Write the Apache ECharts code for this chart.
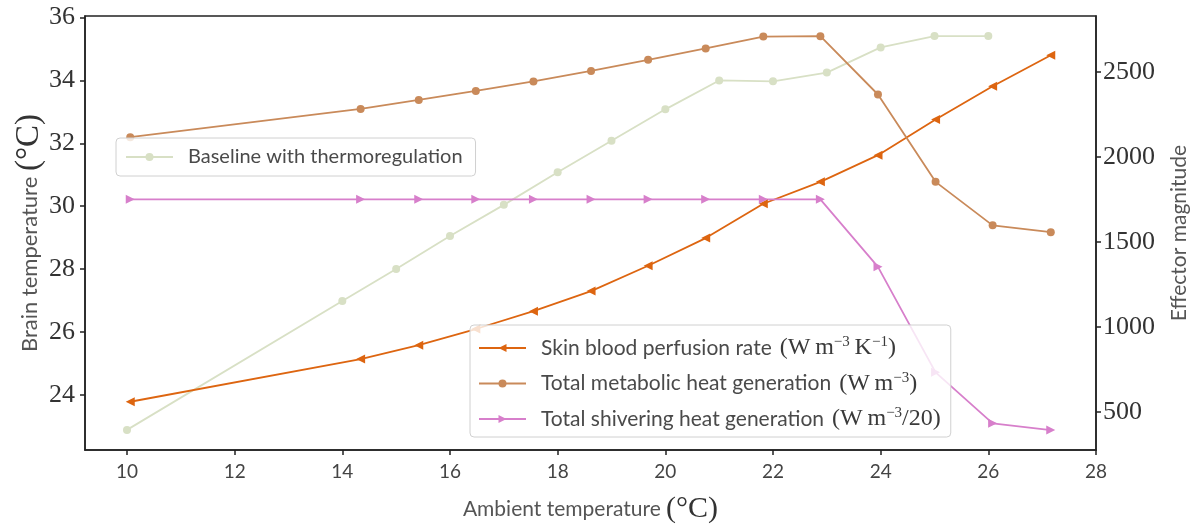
<!DOCTYPE html>
<html>
<head>
<meta charset="utf-8">
<script src="https://cdn.jsdelivr.net/npm/echarts@6/dist/echarts.min.js"></script>
<style>
  html, body { margin: 0; padding: 0; background: #fff; }
  #chart { width: 1194px; height: 525px; }
</style>
</head>
<body>
<div id="chart"></div>
<script>
// ambient temperature of each run
const baselineX = [10, 14, 15, 16, 17, 18, 19, 20, 21, 22, 23, 24, 25, 26];
const effectorX = [10.06, 14.34, 15.42, 16.48, 17.55, 18.62, 19.68, 20.75, 21.82, 22.88, 23.95, 25.02, 26.08, 27.16];

// brain temperature (left axis)
const baseline = [22.88, 26.98, 28.0, 29.05, 30.04, 31.08, 32.08, 33.08, 34.0, 33.97, 34.25, 35.05, 35.41, 35.41];

// effector magnitudes (right axis)
const perfusion = [559, 810, 892, 987, 1092, 1210, 1359, 1522, 1724, 1853, 2010, 2220, 2416, 2598];
const metabolic = [2116, 2282, 2335, 2388, 2444, 2506, 2571, 2638, 2708, 2710, 2367, 1853, 1597, 1557];
const shivering = [1750, 1750, 1750, 1750, 1750, 1750, 1750, 1750, 1750, 1750, 1353, 732, 432, 392];

const xTicks = [10, 12, 14, 16, 18, 20, 22, 24, 26, 28];
const leftTicks = [24, 26, 28, 30, 32, 34, 36];
const rightTicks = [500, 1000, 1500, 2000, 2500];

const names = {
  base: 'Baseline with thermoregulation',
  perf: 'Skin blood perfusion rate',
  meta: 'Total metabolic heat generation',
  shiv: 'Total shivering heat generation'
};
const units = {};
units[names.perf] = '{s|(W\u2009m}{sup|−3}{s|\u2009K}{sup|−1}{s|)}';
units[names.meta] = '{s|(W\u2009m}{sup|−3}{s|)}';
units[names.shiv] = '{s|(W\u2009m}{sup|−3}{s|/20)}';

const zip = (xs, ys) => xs.map((x, i) => [x, ys[i]]);

const sans = 'Lato';
const serif = 'Liberation Serif';
const makeRich = size => ({
  t: { fontFamily: sans, fontSize: size, color: '#4a4a4a' },
  gap: { width: 8 },
  s: { fontFamily: serif, fontSize: 24, color: '#3a3a3a' },
  sup: { fontFamily: serif, fontSize: 15, color: '#3a3a3a', verticalAlign: 'top' }
});

const legendBase = {
  orient: 'vertical',
  itemWidth: 47,
  itemHeight: 10,
  backgroundColor: 'rgba(255,255,255,0.8)',
  borderColor: '#d0d0d0',
  borderWidth: 1,
  borderRadius: 4,
  formatter: n => '{t|' + n + '}' + (units[n] ? '{gap|}' + units[n] : '')
};

const axisLineStyle = { color: '#222', width: 1.5 };

const chart = echarts.init(document.getElementById('chart'), null, { renderer: 'canvas' });

const option = {
  animation: false,
  grid: {
    left: 85, top: 16, right: 98, bottom: 75,
    outerBoundsMode: 'none',
    show: true, borderColor: '#222', borderWidth: 1.5
  },
  legend: [
    Object.assign({}, legendBase, {
      data: [names.base],
      left: 116, top: 138,
      padding: [6, 13, 6, 9],
      textStyle: { rich: makeRich(20), lineHeight: 26, padding: [0, 0, 0, 10] }
    }),
    Object.assign({}, legendBase, {
      data: [names.perf, names.meta, names.shiv],
      left: 470, top: 325,
      itemGap: 9.5,
      padding: [10, 10, 5, 8],
      textStyle: { rich: makeRich(21), lineHeight: 26, padding: [0, 0, 0, 10] }
    })
  ],
  xAxis: {
    type: 'value',
    min: 9.22,
    max: 28,
    name: '{a|Ambient temperature }{b|(°C)}',
    nameLocation: 'middle',
    nameGap: 44,
    nameMoveOverlap: false,
    nameTextStyle: {
      rich: {
        a: { fontFamily: sans, fontSize: 21, color: '#555' },
        b: { fontFamily: serif, fontSize: 30, color: '#333' }
      }
    },
    axisLine: { show: true, lineStyle: axisLineStyle },
    axisTick: { show: true, customValues: xTicks, length: 5, lineStyle: axisLineStyle },
    axisLabel: { customValues: xTicks, fontFamily: sans, fontSize: 19, color: '#444', margin: 12 },
    splitLine: { show: false }
  },
  yAxis: [{
    type: 'value',
    min: 22.24,
    max: 36.05,
    position: 'left',
    name: '{a|Brain temperature }{b|(°C)}',
    nameLocation: 'middle',
    nameRotate: 90,
    nameGap: 39,
    nameMoveOverlap: false,
    nameTextStyle: {
      rich: {
        a: { fontFamily: sans, fontSize: 22, color: '#555' },
        b: { fontFamily: serif, fontSize: 33, color: '#333' }
      }
    },
    axisLine: { show: true, lineStyle: axisLineStyle },
    axisTick: { show: true, customValues: leftTicks, length: 5, lineStyle: axisLineStyle },
    axisLabel: { customValues: leftTicks, fontFamily: serif, fontSize: 26, color: '#333', margin: 10 },
    splitLine: { show: false }
  }, {
    type: 'value',
    min: 275,
    max: 2829,
    position: 'right',
    name: 'Effector magnitude',
    nameLocation: 'middle',
    nameRotate: 90,
    nameGap: 73,
    nameMoveOverlap: false,
    nameTextStyle: { fontFamily: sans, fontSize: 21, color: '#555' },
    axisLine: { show: true, lineStyle: axisLineStyle },
    axisTick: { show: true, customValues: rightTicks, length: 5, lineStyle: axisLineStyle },
    axisLabel: {
      customValues: rightTicks,
      formatter: v => String(v),
      fontFamily: serif, fontSize: 26, color: '#333', margin: 7
    },
    splitLine: { show: false }
  }],
  series: [{
    name: names.base,
    type: 'line',
    yAxisIndex: 0,
    data: zip(baselineX, baseline),
    color: '#d8e0c5',
    symbol: 'circle',
    symbolSize: 8,
    lineStyle: { width: 1.8 },
    z: 1
  }, {
    name: names.perf,
    type: 'line',
    yAxisIndex: 1,
    data: zip(effectorX, perfusion),
    color: '#dd6510',
    symbol: 'triangle',
    symbolRotate: 90,
    symbolSize: 9,
    lineStyle: { width: 1.8 },
    z: 2
  }, {
    name: names.meta,
    type: 'line',
    yAxisIndex: 1,
    data: zip(effectorX, metabolic),
    color: '#c98a5a',
    symbol: 'circle',
    symbolSize: 8,
    lineStyle: { width: 1.8 },
    z: 2
  }, {
    name: names.shiv,
    type: 'line',
    yAxisIndex: 1,
    data: zip(effectorX, shivering),
    color: '#d77fcb',
    symbol: 'triangle',
    symbolRotate: -90,
    symbolSize: 9,
    lineStyle: { width: 1.8 },
    z: 2
  }]
};

chart.setOption(option);
</script>
</body>
</html>
